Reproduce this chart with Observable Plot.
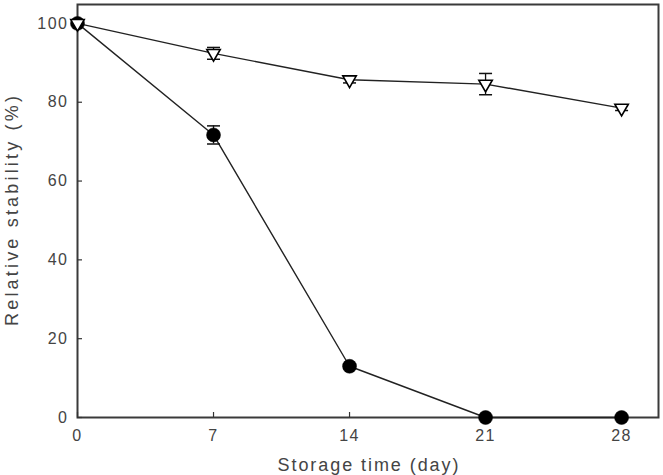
<!DOCTYPE html>
<html>
<head>
<meta charset="utf-8">
<script src="https://cdn.jsdelivr.net/npm/d3@7"></script>
<script src="https://cdn.jsdelivr.net/npm/@observablehq/plot@0.6"></script>
<style>
  html, body { margin: 0; padding: 0; background: #fff; }
  #chart svg { display: block; }
</style>
</head>
<body>
<div id="chart"></div>
<script>
// Data
const days = [0, 7, 14, 21, 28];
const triangleMean = [100, 92.4, 85.7, 84.6, 78.5];
const triangleErr  = [0, 1.5, 0.8, 2.7, 0.6];
const circleMean   = [100, 71.7, 13.0, 0, 0];
const circleErr    = [0, 2.3, 0.6, 0, 0];
const yTicks = [0, 20, 40, 60, 80, 100];

const tri = days.map((d, i) => ({x: d, y: triangleMean[i], e: triangleErr[i]}));
const cir = days.map((d, i) => ({x: d, y: circleMean[i], e: circleErr[i]}));

const cap = {
  draw(ctx, size) {
    const r = Math.sqrt(size / Math.PI);
    ctx.moveTo(-r, 0);
    ctx.lineTo(r, 0);
  }
};

function errMarks(data) {
  const withErr = data.filter(d => d.e > 0);
  return [
    Plot.ruleX(withErr, {x: "x", y1: d => d.y - d.e, y2: d => d.y + d.e, stroke: "#111", strokeWidth: 1.3}),
    Plot.dot(withErr, {x: "x", y: d => d.y + d.e, symbol: cap, r: 6.5, stroke: "#111", strokeWidth: 1.5}),
    Plot.dot(withErr, {x: "x", y: d => d.y - d.e, symbol: cap, r: 6.5, stroke: "#111", strokeWidth: 1.5})
  ];
}

const chart = Plot.plot({
  width: 663,
  height: 475,
  marginLeft: 77,
  marginRight: 5,
  marginTop: 4,
  marginBottom: 58,
  style: {fontFamily: "'Liberation Sans', Arial, sans-serif", fontSize: "16px", color: "#444", background: "#fff"},
  x: {domain: [0, 29.9]},
  y: {domain: [0, 104.8]},
  marks: [
    Plot.frame({stroke: "#3a3a3a", strokeWidth: 2}),
    Plot.axisX({ticks: days, tickSize: -5, tickPadding: 17, stroke: "#333", strokeWidth: 1.2,
      tickFormat: d => String(d), label: "Storage time (day)", labelAnchor: "center", labelArrow: "none", labelOffset: 53}),
    Plot.axisY({ticks: yTicks, tickSize: -5, tickPadding: 14, stroke: "#333", strokeWidth: 1.2,
      tickFormat: d => String(d), label: "Relative stability (%)", labelAnchor: "center", labelArrow: "none", labelOffset: 72}),
    Plot.line(cir, {x: "x", y: "y", stroke: "#222", strokeWidth: 1.4}),
    Plot.line(tri, {x: "x", y: "y", stroke: "#222", strokeWidth: 1.4}),
    ...errMarks(cir),
    Plot.dot(cir, {x: "x", y: "y", r: 7, fill: "#000", stroke: "#000", strokeWidth: 0.5}),
    ...errMarks(tri),
    Plot.dot(tri, {x: "x", y: "y", symbol: "triangle", rotate: 180, r: 5, fill: "#fff", stroke: "#000", strokeWidth: 1.6})
  ]
});

document.getElementById("chart").appendChild(chart);

// tweak axis labels spacing to match reference lettering
d3.select(chart).selectAll("g[aria-label='x-axis label'] text, g[aria-label='y-axis label'] text")
  .style("font-size", "18px");
d3.select(chart).selectAll("g[aria-label='y-axis label'] text")
  .attr("textLength", 230).attr("lengthAdjust", "spacing");
d3.select(chart).selectAll("g[aria-label='x-axis label'] text")
  .attr("textLength", 181).attr("lengthAdjust", "spacing");
d3.select(chart).selectAll("g[aria-label='x-axis tick label'] text, g[aria-label='y-axis tick label'] text")
  .style("letter-spacing", "1.5px");
</script>
</body>
</html>
